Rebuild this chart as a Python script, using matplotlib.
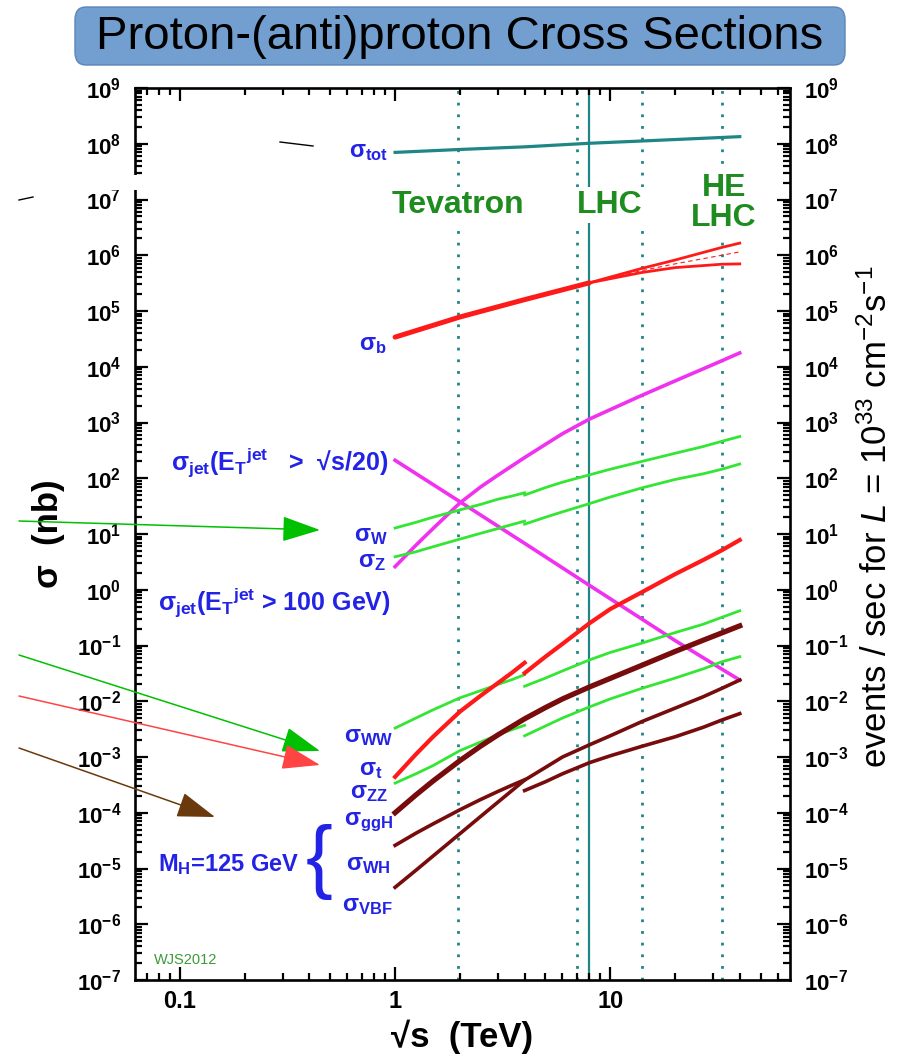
#
#   Proton-(anti)proton cross sections vs. centre-of-mass energy
#

import numpy as np
import matplotlib
matplotlib.use("Agg")
from matplotlib import pyplot as plt
from matplotlib.ticker import LogLocator, NullFormatter, FuncFormatter
from matplotlib.patches import FancyBboxPatch, Rectangle
from matplotlib.lines import Line2D

#
#   DATA  (sqrt(s) in TeV, sigma in nb)
#
E_ppbar = [1, 1.25, 1.5, 2, 2.5, 3, 3.5, 4]
E_pp = [4, 5, 6, 8, 10, 14, 20, 27, 33, 40]
E_all = [1, 1.25, 1.5, 2, 2.5, 3, 4, 5, 6, 8, 10, 14, 20, 27, 33, 40]

E_tot = [1, 2, 4, 8, 14, 40]
sigma_tot = [7.0e7, 7.9e7, 8.8e7, 1.02e8, 1.12e8, 1.34e8]

E_b = [1, 2, 4, 8]
sigma_b = [3.4e4, 7.8e4, 1.6e5, 3.2e5]
E_b_split = [8, 14, 20, 33, 40]
sigma_b_hi = [3.2e5, 5.8e5, 8.2e5, 1.38e6, 1.65e6]
sigma_b_lo = [3.2e5, 4.9e5, 6.0e5, 6.9e5, 7.0e5]
sigma_b_mid = [3.2e5, 5.3e5, 7.0e5, 1.0e6, 1.15e6]

E_jet20 = [1, 2, 4, 8, 14, 20, 40]
sigma_jet20 = [210, 38, 6.8, 1.2, 0.30, 0.123, 0.024]

E_jet100 = [1, 1.25, 1.5, 2, 2.5, 3, 4, 5, 6, 8, 10, 14, 20, 30, 40]
sigma_jet100 = [2.6, 6.3, 12.5, 36, 70, 113, 235, 405, 630, 1150, 1700, 3060, 5560, 1.09e4, 1.77e4]

sigma_W_ppbar = [12.8, 16.2, 20, 27, 34, 42, 48, 55]
sigma_W_pp = [50, 68, 85, 115, 145, 200, 280, 370, 460, 560]
sigma_Z_ppbar = [3.9, 4.8, 5.9, 8.1, 10.3, 12.5, 14.8, 17]
sigma_Z_pp = [15, 20, 25, 35, 46, 67, 95, 120, 145, 180]

sigma_WW_ppbar = [3.3e-3, 5.0e-3, 7.0e-3, 1.15e-2, 1.55e-2, 2.0e-2, 2.45e-2, 3.0e-2]
sigma_WW_pp = [1.86e-2, 2.6e-2, 3.5e-2, 5.5e-2, 7.5e-2, 0.11, 0.17, 0.24, 0.32, 0.42]
sigma_ZZ_ppbar = [3.4e-4, 5.0e-4, 7.0e-4, 1.3e-3, 1.86e-3, 2.5e-3, 3.1e-3, 3.7e-3]
sigma_ZZ_pp = [2.4e-3, 3.6e-3, 5.0e-3, 7.9e-3, 1.1e-2, 1.7e-2, 2.6e-2, 3.8e-2, 5.1e-2, 6.3e-2]

sigma_t_ppbar = [4.4e-4, 1.12e-3, 2.3e-3, 6.5e-3, 1.26e-2, 2.11e-2, 3.27e-2, 4.9e-2]
sigma_t_pp = [3.2e-2, 6.3e-2, 0.107, 0.25, 0.45, 0.9, 1.9, 3.4, 5.1, 7.8]

sigma_ggH = [1.0e-4, 2.09e-4, 3.7e-4, 8.6e-4, 1.57e-3, 2.48e-3, 4.84e-3, 7.7e-3,
             1.10e-2, 1.80e-2, 2.57e-2, 4.4e-2, 7.8e-2, 0.124, 0.168, 0.225]
sigma_WH_ppbar = [2.6e-5, 4.3e-5, 6.3e-5, 1.13e-4, 1.73e-4, 2.4e-4, 3.13e-4, 3.9e-4]
sigma_WH_pp = [2.5e-4, 3.6e-4, 5.0e-4, 7.9e-4, 1.05e-3, 1.55e-3, 2.3e-3, 3.4e-3, 4.6e-3, 6.0e-3]
sigma_VBF = [4.6e-6, 9.3e-6, 1.67e-5, 4.2e-5, 8.6e-5, 1.54e-4, 3.85e-4, 6.5e-4,
             1.0e-3, 1.65e-3, 2.4e-3, 4.3e-3, 7.5e-3, 1.2e-2, 1.7e-2, 2.4e-2]

# collider energies
E_colliders_dotted = [1.96, 7, 14, 33]
E_lhc_run = 8

#
#   STYLE
#
plt.rcParams["font.family"] = ["Liberation Sans", "DejaVu Sans"]
plt.rcParams["font.weight"] = "bold"
plt.rcParams["axes.labelweight"] = "bold"
# only the luminosity symbol uses real math fonts, keep it thin and slanted
plt.rcParams["mathtext.fontset"] = "custom"
plt.rcParams["mathtext.rm"] = "Liberation Sans:weight=normal"
plt.rcParams["mathtext.it"] = "Liberation Sans:style=italic:weight=normal"
plt.rcParams["mathtext.bf"] = "Liberation Sans:weight=bold"

teal = "#1f8585"
red = "#ff1a1a"
magenta = "#f032f0"
green = "#33e633"
maroon = "#780c0c"
blue = "#2323e6"
dkgreen = "#1e8c1e"

W, H = 904, 1059
fig = plt.figure(figsize=(W / 100, H / 100), dpi=100)
ax = fig.add_axes([135 / W, 1 - 980 / H, 655 / W, 892 / H])

#
#   CURVES
#
ax.plot(E_tot, sigma_tot, color=teal, lw=2.3)

ax.plot(E_b, sigma_b, color=red, lw=3.6, solid_capstyle="round")
ax.plot(E_b_split, sigma_b_hi, color=red, lw=2.0)
ax.plot(E_b_split, sigma_b_lo, color=red, lw=2.0)
ax.plot(E_b_split, sigma_b_mid, color=red, lw=0.8, ls=(0, (4, 3)))

ax.plot(E_jet20, sigma_jet20, color=magenta, lw=2.6)
ax.plot(E_jet100, sigma_jet100, color=magenta, lw=2.6)

for ppbar, pp in [(sigma_W_ppbar, sigma_W_pp), (sigma_Z_ppbar, sigma_Z_pp),
                  (sigma_WW_ppbar, sigma_WW_pp), (sigma_ZZ_ppbar, sigma_ZZ_pp)]:
    ax.plot(E_ppbar, ppbar, color=green, lw=2.0)
    ax.plot(E_pp, pp, color=green, lw=2.0)

ax.plot(E_ppbar, sigma_t_ppbar, color=red, lw=3.0)
ax.plot(E_pp, sigma_t_pp, color=red, lw=3.0)

ax.plot(E_all, sigma_ggH, color=maroon, lw=3.8)
ax.plot(E_ppbar, sigma_WH_ppbar, color=maroon, lw=2.6)
ax.plot(E_pp, sigma_WH_pp, color=maroon, lw=2.6)
ax.plot(E_all, sigma_VBF, color=maroon, lw=2.6)

# collider lines
for e in E_colliders_dotted:
    ax.axvline(e, color=teal, lw=2.0, ls=(0, (1, 3.2)), zorder=1)
ax.axvline(E_lhc_run, color=teal, lw=1.6, zorder=1)

#
#   AXES
#
ax.set_xscale("log")
ax.set_yscale("log")
ax.set_xlim(0.0618, 68.5)
ax.set_ylim(1e-7, 1e9)

ax.yaxis.set_major_locator(LogLocator(base=10, numticks=30))
ax.yaxis.set_minor_locator(LogLocator(base=10, subs=np.arange(2, 10), numticks=30))
ax.yaxis.set_minor_formatter(NullFormatter())
ax.xaxis.set_major_locator(LogLocator(base=10, numticks=10))
ax.xaxis.set_minor_locator(LogLocator(base=10, subs=np.arange(2, 10), numticks=10))
ax.xaxis.set_minor_formatter(NullFormatter())
ax.xaxis.set_major_formatter(FuncFormatter(lambda v, p: f"{v:g}"))

ax.tick_params(which="both", direction="in", top=True, right=True, width=1.6)
ax.tick_params(which="major", length=9.5)
ax.tick_params(which="minor", length=5)
ax.tick_params(axis="y", labelright=True, labelsize=16, pad=10)
ax.tick_params(axis="x", labelsize=17, pad=7)
for s in ax.spines.values():
    s.set_linewidth(1.9)

ax.set_xlabel("√s  (TeV)", fontsize=25, labelpad=5)
ax.set_ylabel("σ  (nb)", fontsize=25, labelpad=8)

fig.text(877 / W, 1 - 517 / H,
         r"events / sec for $L$ = 10$^{\mathregular{33}}$ cm$^{\mathregular{-2}}$s$^{\mathregular{-1}}$",
         rotation=90, ha="center", va="center", fontsize=25, fontweight="normal")

#
#   LABELS
#
lab = dict(color=blue, fontsize=17, ha="right", va="center")
ax.text(0.93, 7.2e7, "σ$_\\mathregular{tot}$", **lab)
ax.text(0.91, 2.5e4, "σ$_\\mathregular{b}$", **lab)
ax.text(0.93, 195, "σ$_\\mathregular{jet}$(E$_\\mathregular{T}$$^\\mathregular{jet}$   >  √s/20)",
        **dict(lab, fontsize=18))
ax.text(0.93, 9.5, "σ$_\\mathregular{W}$", **lab)
ax.text(0.91, 3.2, "σ$_\\mathregular{Z}$", **lab)
ax.text(0.95, 0.6, "σ$_\\mathregular{jet}$(E$_\\mathregular{T}$$^\\mathregular{jet}$ > 100 GeV)",
        **dict(lab, fontsize=18))
ax.text(0.98, 2.3e-3, "σ$_\\mathregular{WW}$", **lab)
ax.text(0.88, 6.0e-4, "σ$_\\mathregular{t}$", **lab)
ax.text(0.93, 2.3e-4, "σ$_\\mathregular{ZZ}$", **lab)
ax.text(0.98, 6.7e-5, "σ$_\\mathregular{ggH}$", **lab)
ax.text(0.96, 1.2e-5, "σ$_\\mathregular{WH}$", **lab)
ax.text(0.98, 2.2e-6, "σ$_\\mathregular{VBF}$", **lab)
ax.text(0.36, 1.2e-5, "M$_\\mathregular{H}$=125 GeV", **lab)
ax.text(0.445, 1.3e-5, "{", color=blue, fontsize=58, fontweight="normal",
        ha="center", va="center")
ax.text(0.0756, 2.3e-7, "WJS2012", color="#3a9a3a", fontsize=10.5,
        fontweight="normal", ha="left", va="center")

box = dict(facecolor="white", edgecolor="none", pad=2)
col = dict(color=dkgreen, fontsize=23, ha="center", va="center", bbox=box)
ax.text(1.95, 7.9e6, "Tevatron", **col)
ax.text(9.9, 7.9e6, "LHC", **col)
ax.text(33.8, 8.6e6, "HE\nLHC", linespacing=1.0, **col)

#
#   SLIDE DECORATION (title box, arrows, leftovers from the slide)
#
fig.patches.append(FancyBboxPatch((75 / W, 1 - 65 / H), 770 / W, 58 / H,
                                  boxstyle="round,pad=0,rounding_size=0.012",
                                  transform=fig.transFigure, facecolor="#729fcf",
                                  edgecolor="#5b86b8", lw=1.0, zorder=5))
fig.text(460 / W, 1 - 37 / H, "Proton-(anti)proton Cross Sections",
         fontsize=34, fontweight="normal", ha="center", va="center", zorder=6)

# white strip cut through the top left of the pasted picture
fig.patches.append(Rectangle((0, 1 - 190 / H), 330 / W, 15 / H,
                             transform=fig.transFigure, facecolor="white",
                             edgecolor="none", zorder=5))
fig.lines.append(Line2D([280 / W, 313 / W], [1 - 142 / H, 1 - 146 / H],
                        transform=fig.transFigure, color="black", lw=1.0, zorder=6))
fig.lines.append(Line2D([19 / W, 33 / W], [1 - 200 / H, 1 - 197 / H],
                        transform=fig.transFigure, color="black", lw=1.0, zorder=6))

arrows = [((19, 521), (320, 530), "#00c000"),
          ((19, 655), (320, 751), "#00c000"),
          ((19, 696), (320, 765), "#ff4444"),
          ((19, 748), (215, 817), "#6b3a0c")]
for (x0, y0), (x1, y1), c in arrows:
    ax.annotate("", xy=(x1 / W, 1 - y1 / H), xytext=(x0 / W, 1 - y0 / H),
                xycoords="figure fraction", textcoords="figure fraction",
                annotation_clip=False, zorder=7,
                arrowprops=dict(arrowstyle="-|>,head_length=1.5,head_width=0.5",
                                mutation_scale=16, color=c, lw=1.1,
                                shrinkA=0, shrinkB=0))

plt.savefig("out.png", dpi=100)
